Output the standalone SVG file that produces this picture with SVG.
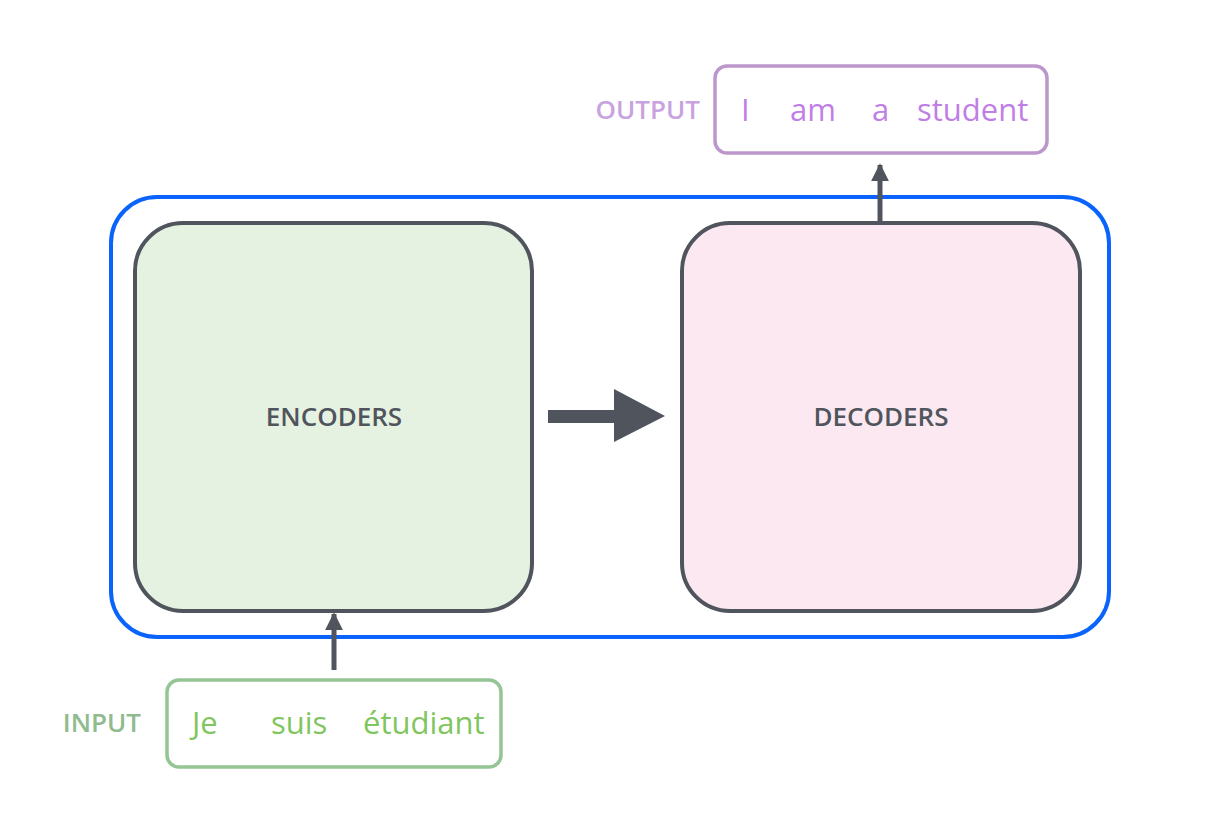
<svg xmlns="http://www.w3.org/2000/svg" width="1220" height="816" viewBox="0 0 1220 816">
<style>
  text { font-family: "Open Sans", "Noto Sans", "Liberation Sans", sans-serif; }
  .box { stroke: #50545c; stroke-width: 4; }
  .lbl { font-size: 26px; font-weight: 600; fill: #50545c; text-anchor: middle; }
  .side { font-size: 26px; font-weight: 600; text-anchor: end; }
  .word { font-size: 31px; }
  .conn { stroke: #50545c; stroke-width: 5; fill: none; }
</style>
<defs>
  <marker id="ah" viewBox="0 0 10 10" refX="9" refY="5" markerWidth="3.6" markerHeight="3.6" orient="auto">
    <path d="M0,0 L10,5 L0,10 z" fill="#50545c"/>
  </marker>
</defs>
<rect width="1220" height="816" fill="#ffffff"/>
<g id="container">
  <rect x="111" y="197" width="998" height="440" rx="46" fill="none" stroke="#0a64fb" stroke-width="4"/>
</g>
<g id="encoders">
  <rect class="box" x="135" y="223" width="397" height="388" rx="48" fill="#e6f2e1"/>
  <text class="lbl" x="334" y="426">ENCODERS</text>
</g>
<g id="decoders">
  <rect class="box" x="682" y="223" width="398" height="388" rx="48" fill="#fbe8f0"/>
  <text class="lbl" x="881" y="426">DECODERS</text>
</g>
<g id="output">
  <rect x="715" y="66" width="332" height="87" rx="12" fill="#ffffff" stroke="#bd97cc" stroke-width="3.5"/>
  <text class="side" x="700" y="119" fill="#c7a3df">OUTPUT</text>
  <g class="word" fill="#bf7fe6">
    <text x="741" y="121">I</text>
    <text x="790" y="121">am</text>
    <text x="872" y="121">a</text>
    <text x="917" y="121">student</text>
  </g>
</g>
<g id="input">
  <rect x="167" y="680" width="334" height="87" rx="12" fill="#ffffff" stroke="#95c595" stroke-width="3.5"/>
  <text class="side" x="141" y="732" fill="#8fbb8f">INPUT</text>
  <g class="word" fill="#7fc65e">
    <text x="192" y="734">Je</text>
    <text x="271" y="734">suis</text>
    <text x="363" y="734">étudiant</text>
  </g>
</g>
<g id="connectors">
  <path class="conn" d="M334,670 V614" marker-end="url(#ah)"/>
  <path class="conn" d="M880,221 V165" marker-end="url(#ah)"/>
  <path d="M548,410 H614 V389 L665,416 L614,442 V423 H548 Z" fill="#50545c"/>
</g>
</svg>
